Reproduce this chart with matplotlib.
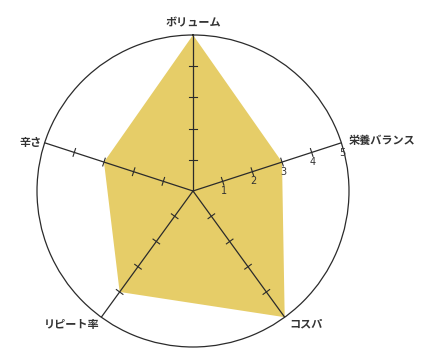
import numpy as np
import matplotlib
matplotlib.use("Agg")
import matplotlib.pyplot as plt

plt.rcParams['font.family'] = ['Noto Sans CJK JP', 'DejaVu Sans']

# data
categories = ["ボリューム", "栄養バランス", "コスパ", "リピート率", "辛さ"]
values = [5, 3, 5, 4, 3]
scale_ticks = [1, 2, 3, 4, 5]
rmax = 5

fill_color = "#E6CD68"
line_color = "#2b2b2b"

n = len(categories)
angles = np.arange(n) * 2 * np.pi / n

fig = plt.figure(figsize=(4.3, 3.6), dpi=100)
ax = fig.add_axes([37 / 430, 13 / 360, 312 / 430, 312 / 360], projection="polar")
ax.set_theta_offset(np.pi / 2)
ax.set_theta_direction(-1)
ax.set_ylim(0, rmax)

# filled shape
ax.fill(np.append(angles, angles[0]), values + values[:1],
        color=fill_color, linewidth=0, zorder=1)

# spokes with small cross ticks (tick half length in data units)
half = 0.13
for a in angles:
    ax.plot([a, a], [0, rmax], color=line_color, lw=0.9, zorder=3)
    for t in scale_ticks[:-1]:
        da = np.arctan(half / t)
        rr = np.hypot(t, half)
        ax.plot([a - da, a + da], [rr, rr], color=line_color, lw=0.8, zorder=3)

# scale numbers along the second spoke
for t in scale_ticks:
    ax.annotate(str(t), (angles[1], t), xytext=(1, -7), textcoords="offset points",
                ha="center", va="center", fontsize=7, color="#333333",
                family=['DejaVu Sans'])

# category labels
label_pos = [
    dict(xytext=(0, 9), ha="center", va="center"),
    dict(xytext=(5, 2), ha="left", va="center"),
    dict(xytext=(3, -5), ha="left", va="center"),
    dict(xytext=(-1, -5), ha="right", va="center"),
    dict(xytext=(-2, 0), ha="right", va="center"),
]
for a, lab, kw in zip(angles, categories, label_pos):
    ax.annotate(lab, (a, rmax), textcoords="offset points", fontsize=8,
                fontweight="bold", color="#333333", annotation_clip=False, **kw)

ax.set_xticks([])
ax.set_yticks([])
ax.grid(False)
ax.spines["polar"].set_color(line_color)
ax.spines["polar"].set_linewidth(0.9)

fig.savefig("out.png", dpi=100)
